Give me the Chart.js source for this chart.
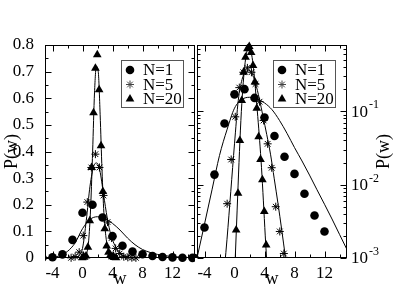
<!DOCTYPE html>
<html>
<head>
<meta charset="utf-8">
<script src="https://cdn.jsdelivr.net/npm/chart.js@4.4.0/dist/chart.umd.min.js"></script>
<style>
  html, body { margin: 0; padding: 0; background: #fff; }
  #wrap { position: relative; width: 393px; height: 304px; overflow: hidden; background: #fff; }
  #left { position: absolute; left: 0; top: 0; }
  #right { position: absolute; left: 190px; top: 0; }
</style>
</head>
<body>
<div id="wrap">
  <canvas id="left" width="200" height="304"></canvas>
  <canvas id="right" width="203" height="304"></canvas>
</div>
<script>
// histogram points, N=1 / N=5 / N=20
const wN1 = [-5.33, -4, -2.67, -1.33, 0, 1.33, 2.67, 4, 5.33, 6.67, 8, 9.33, 10.67, 12, 13.33, 14.67];
const pN1 = [0.001, 0.0026, 0.0137, 0.068, 0.17, 0.2, 0.152, 0.082, 0.046, 0.024, 0.014, 0.0075, 0.0038, 0.0023, 0.0008, 0.0004];
const wN5 = [-1.52, -0.98, -0.44, 0.10, 0.64, 1.18, 1.72, 2.26, 2.80, 3.34, 3.88, 4.42, 4.96, 5.50, 6.04, 6.58, 7.12];
const pN5 = [0.0007, 0.0055, 0.022, 0.084, 0.21, 0.34, 0.39, 0.34, 0.235, 0.135, 0.075, 0.036, 0.017, 0.005, 0.0023, 0.00115, 0.0005];
const wN20 = [-0.03, 0.22, 0.47, 0.72, 0.97, 1.22, 1.47, 1.72, 1.97, 2.22, 2.47, 2.72, 2.97, 3.22, 3.47, 3.72, 3.97, 4.22, 4.47];
const pN20 = [0.0006, 0.0024, 0.0076, 0.04, 0.14, 0.34, 0.546, 0.713, 0.763, 0.632, 0.422, 0.25, 0.11, 0.045, 0.022, 0.0117, 0.0043, 0.0015, 0.0005];

// solid curves
const wT1 = [-5, -4, -3, -2, -1, 0, 1, 2, 3, 4, 5, 6, 7, 8, 9, 10, 11, 12, 13, 14, 15];
const pT1 = [0.001, 0.0029, 0.0085, 0.025, 0.056, 0.11, 0.145, 0.155, 0.148, 0.13, 0.105, 0.075, 0.05, 0.032, 0.021, 0.0135, 0.0085, 0.0054, 0.0034, 0.0021, 0.0013];
const wT5 = [-1.3, -1.0, -0.5, 0.0, 0.5, 1.0, 1.5, 1.9, 2.3, 2.8, 3.3, 3.8, 4.3, 4.8, 5.3, 5.8, 6.3, 6.8];
const pT5 = [0.0008, 0.0018, 0.008, 0.036, 0.14, 0.27, 0.345, 0.357, 0.33, 0.24, 0.15, 0.085, 0.048, 0.026, 0.012, 0.0055, 0.0024, 0.001];
const wT20 = [0.1, 0.35, 0.6, 0.85, 1.1, 1.35, 1.6, 1.85, 2.1, 2.35, 2.6, 2.85, 3.1, 3.35, 3.6, 3.85, 4.1, 4.3];
const pT20 = [0.001, 0.0045, 0.02, 0.075, 0.2, 0.4, 0.62, 0.72, 0.7, 0.54, 0.33, 0.17, 0.085, 0.04, 0.017, 0.006, 0.002, 0.0009];

// ticks and labels
const xMajor = [-4, 0, 4, 8, 12];
const xMinor = [-2, 2, 6, 10, 14];
const yLinMajor = [0, 0.1, 0.2, 0.3, 0.4, 0.5, 0.6, 0.7, 0.8];
const yLinMinor = [0.05, 0.15, 0.25, 0.35, 0.45, 0.55, 0.65, 0.75];
const yLogMajor = [0.001, 0.01, 0.1];
const yLogExp = ['3', '2', '1'];
const legendLabels = ['N=1', 'N=5', 'N=20'];
const legendStyles = ['circle', 'star', 'triangle'];

const serif = "'Liberation Serif', 'Times New Roman', Times, serif";
Chart.defaults.font.family = serif;
Chart.defaults.color = '#000';

// minor log ticks 2..9 per decade, up to the top of the axis
const yLogMinor = [];
yLogMajor.forEach(d => { for (let k = 2; k <= 9; k++) if (d * k <= 0.8) yLogMinor.push(d * k); });

const pts = (ws, ps) => ws.map((w, i) => ({ x: w, y: ps[i] }));

function makeSets(pointClip) {
  const curve = (ws, ps) => ({
    data: pts(ws, ps), showLine: true, pointRadius: 0, borderColor: '#000',
    borderWidth: 1, cubicInterpolationMode: 'monotone', clip: 0
  });
  return [
    { label: 'N=1', data: pts(wN1, pN1), pointStyle: 'circle', pointRadius: 4.3,
      backgroundColor: '#000', borderColor: '#000', borderWidth: 0, clip: pointClip },
    { label: 'N=5', data: pts(wN5, pN5), pointStyle: 'star', pointRadius: 4,
      borderColor: '#000', backgroundColor: '#000', borderWidth: 1, clip: pointClip },
    { label: 'N=20', data: pts(wN20, pN20), pointStyle: 'triangle', pointRadius: 5,
      backgroundColor: '#000', borderColor: '#000', borderWidth: 0, clip: pointClip },
    curve(wT1, pT1),
    curve(wT5, pT5),
    curve(wT20, pT20)
  ];
}

function drawMarker(ctx, style, x, y) {
  ctx.fillStyle = '#000';
  ctx.strokeStyle = '#444';
  ctx.beginPath();
  if (style === 'circle') {
    ctx.arc(x, y, 4.3, 0, Math.PI * 2);
    ctx.fill();
  } else if (style === 'triangle') {
    const r = 5;
    ctx.moveTo(x, y - r);
    ctx.lineTo(x + r * 0.866, y + r * 0.5);
    ctx.lineTo(x - r * 0.866, y + r * 0.5);
    ctx.closePath();
    ctx.fill();
  } else {
    const r = 4;
    for (let k = 0; k < 4; k++) {
      const a = k * Math.PI / 4;
      ctx.moveTo(x - r * Math.cos(a), y - r * Math.sin(a));
      ctx.lineTo(x + r * Math.cos(a), y + r * Math.sin(a));
    }
    ctx.lineWidth = 1;
    ctx.stroke();
  }
}

// box with inward ticks on all four sides
const framePlugin = {
  id: 'frame',
  afterDatasetsDraw(chart, args, opts) {
    const { ctx, chartArea: a, scales: { x, y } } = chart;
    const L = Math.round(a.left) + 0.5, R = Math.round(a.right) - 0.5;
    const T = Math.round(a.top) + 0.5, B = Math.round(a.bottom) - 0.5;
    ctx.save();
    ctx.strokeStyle = '#000';
    ctx.lineWidth = 1;
    ctx.strokeRect(L, T, R - L, B - T);
    ctx.beginPath();
    const vTick = (v, len) => {
      const px = Math.round(x.getPixelForValue(v)) + 0.5;
      ctx.moveTo(px, B); ctx.lineTo(px, B - len);
      ctx.moveTo(px, T); ctx.lineTo(px, T + len);
    };
    const hTick = (v, len) => {
      const py = Math.round(y.getPixelForValue(v)) + 0.5;
      ctx.moveTo(L, py); ctx.lineTo(L + len, py);
      ctx.moveTo(R, py); ctx.lineTo(R - len, py);
    };
    xMajor.forEach(v => vTick(v, 6));
    xMinor.forEach(v => vTick(v, 3));
    opts.yMajor.forEach(v => hTick(v, 6));
    opts.yMinor.forEach(v => hTick(v, 3));
    ctx.stroke();
    ctx.restore();
  }
};

const legendPlugin = {
  id: 'boxLegend',
  afterDraw(chart) {
    const { ctx, chartArea: a } = chart;
    const bx = Math.round(a.left) + 76, by = Math.round(a.top) + 15;
    ctx.save();
    ctx.fillStyle = '#fff';
    ctx.fillRect(bx, by, 62, 47);
    ctx.strokeStyle = '#555';
    ctx.lineWidth = 1;
    ctx.strokeRect(bx + 0.5, by + 0.5, 62, 47);
    legendLabels.forEach((lab, i) => {
      const yy = by + 10 + i * 14.5;
      drawMarker(ctx, legendStyles[i], bx + 9, yy);
      ctx.fillStyle = '#000';
      ctx.font = '17px ' + serif;
      ctx.textBaseline = 'middle';
      ctx.fillText(lab, bx + 22, yy + 1);
    });
    ctx.restore();
  }
};

// right axis: 10^-k labels and the P(w) title
const logLabelPlugin = {
  id: 'logLabels',
  afterDraw(chart) {
    const { ctx, chartArea: a, scales: { y } } = chart;
    ctx.save();
    ctx.fillStyle = '#000';
    ctx.textBaseline = 'middle';
    yLogMajor.forEach((v, i) => {
      const py = y.getPixelForValue(v);
      ctx.font = '17px ' + serif;
      ctx.fillText('10', a.right + 4, py + 1);
      const w = ctx.measureText('10').width;
      ctx.font = '12px ' + serif;
      ctx.fillText('-' + yLogExp[i], a.right + 5 + w, py - 6);
    });
    ctx.translate(a.right + 37, (a.top + a.bottom) / 2);
    ctx.rotate(-Math.PI / 2);
    ctx.font = '18px ' + serif;
    ctx.textAlign = 'center';
    ctx.fillText('P(w)', 0, 0);
    ctx.restore();
  }
};

const xAxis = {
  type: 'linear', min: -5, max: 15,
  afterBuildTicks: s => { s.ticks = xMajor.map(v => ({ value: v })); },
  afterFit: s => { s.height = 46; },
  grid: { display: false }, border: { display: false },
  ticks: { font: { size: 17, lineHeight: 0.8 }, color: '#000', padding: 1, maxRotation: 0, callback: v => String(v) },
  title: { display: true, text: 'w', font: { size: 18 }, color: '#000', padding: { top: 0, bottom: 14 } }
};

function draw() {
  new Chart(document.getElementById('left'), {
    type: 'scatter',
    data: { datasets: makeSets({ left: 0, top: 10, right: 0, bottom: 10 }) },
    options: {
      responsive: false, animation: false,
      layout: { padding: { top: 45, right: 3, left: 0, bottom: 0 } },
      plugins: {
        legend: { display: false }, tooltip: { enabled: false },
        frame: { yMajor: yLinMajor, yMinor: yLinMinor }
      },
      scales: {
        x: xAxis,
        y: {
          type: 'linear', min: 0, max: 0.8,
          afterBuildTicks: s => { s.ticks = yLinMajor.map(v => ({ value: v })); },
          afterFit: s => { s.width = 45; },
          grid: { display: false }, border: { display: false },
          ticks: { font: { size: 17 }, color: '#000', padding: 3, callback: v => v === 0 ? '0' : v.toFixed(1) },
          title: { display: true, text: 'P(w)', font: { size: 18 }, color: '#000', padding: { top: 1, bottom: 0 } }
        }
      }
    },
    plugins: [framePlugin, legendPlugin]
  });

  new Chart(document.getElementById('right'), {
    type: 'scatter',
    data: { datasets: makeSets({ left: 8, top: 10, right: 0, bottom: 0 }) },
    options: {
      responsive: false, animation: false,
      layout: { padding: { top: 45, right: 0, left: 7, bottom: 0 } },
      plugins: {
        legend: { display: false }, tooltip: { enabled: false },
        frame: { yMajor: yLogMajor, yMinor: yLogMinor }
      },
      scales: {
        x: xAxis,
        y: {
          type: 'logarithmic', position: 'right', min: 0.001, max: 0.8,
          afterBuildTicks: s => { s.ticks = yLogMajor.map(v => ({ value: v })); },
          afterFit: s => { s.width = 46; },
          grid: { display: false }, border: { display: false },
          ticks: { display: false },
          title: { display: false }
        }
      }
    },
    plugins: [framePlugin, legendPlugin, logLabelPlugin]
  });
}

// make sure the serif face is ready before the canvas text is drawn
Promise.all([
  document.fonts.load("17px 'Liberation Serif'"),
  document.fonts.load("17px 'Times New Roman'")
]).then(draw, draw);
</script>
</body>
</html>
